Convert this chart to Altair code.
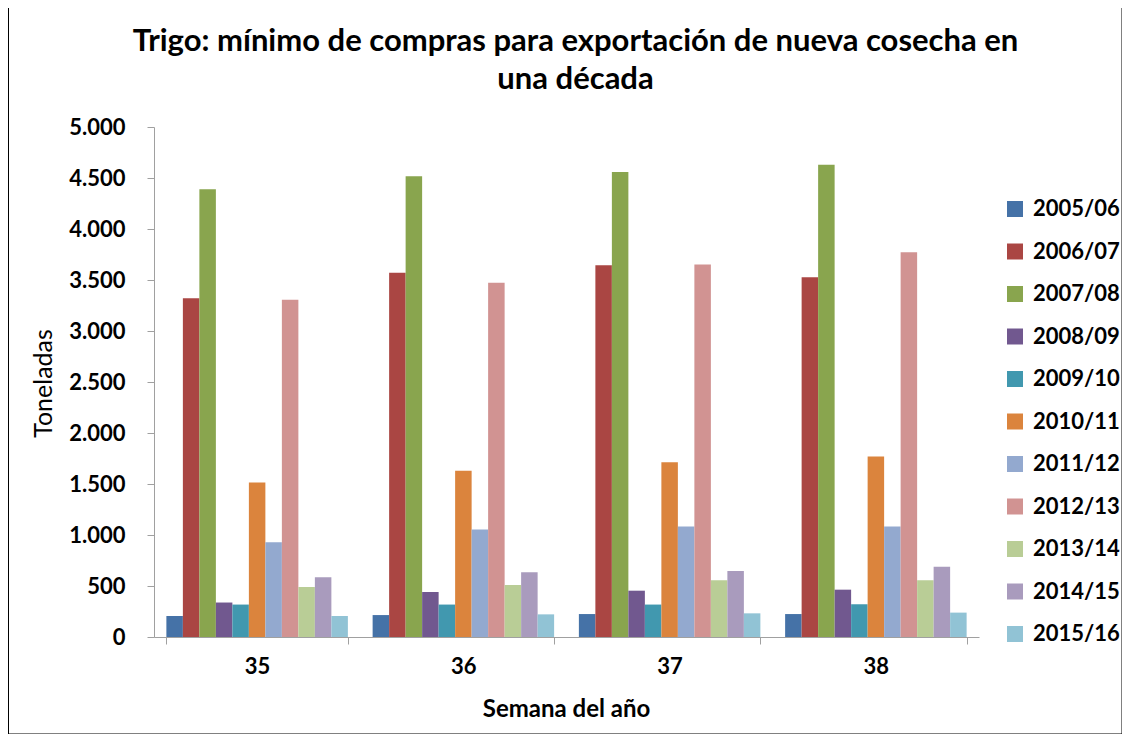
import altair as alt
import pandas as pd

weeks = ["35", "36", "37", "38"]
seasons = ["2005/06", "2006/07", "2007/08", "2008/09", "2009/10", "2010/11",
           "2011/12", "2012/13", "2013/14", "2014/15", "2015/16"]
colors = ["#4572A7", "#AA4643", "#89A54E", "#71588F", "#4198AF", "#DB843D",
          "#93A9CF", "#D19392", "#B9CD96", "#A99BBD", "#91C3D5"]

v_2005_06 = [206, 215, 225, 225]
v_2006_07 = [3320, 3572, 3645, 3526]
v_2007_08 = [4390, 4516, 4560, 4629]
v_2008_09 = [338, 441, 454, 464]
v_2009_10 = [318, 318, 318, 321]
v_2010_11 = [1514, 1630, 1713, 1769]
v_2011_12 = [928, 1054, 1084, 1084]
v_2012_13 = [3307, 3473, 3651, 3771]
v_2013_14 = [490, 510, 557, 557]
v_2014_15 = [586, 636, 646, 689]
v_2015_16 = [206, 222, 232, 239]

series = [v_2005_06, v_2006_07, v_2007_08, v_2008_09, v_2009_10, v_2010_11,
          v_2011_12, v_2012_13, v_2013_14, v_2014_15, v_2015_16]

rows = []
for s, vals in zip(seasons, series):
    for w, v in zip(weeks, vals):
        rows.append({"semana": w, "temporada": s, "toneladas": v})
df = pd.DataFrame(rows)

FONT = "Lato"

bars = alt.Chart(df).mark_bar().encode(
    x=alt.X("semana:N", sort=weeks,
            scale=alt.Scale(paddingInner=0.12, paddingOuter=0.06),
            axis=alt.Axis(title="Semana del año", tickBand="extent", labelAngle=0,
                          labelFontSize=22, labelFontWeight="bold", labelFont=FONT,
                          labelColor="#000000", labelPadding=12,
                          domainColor="#A0A0A0", tickColor="#A0A0A0", tickSize=7,
                          titleFont=FONT, titleFontSize=24, titleFontWeight="bold",
                          titleColor="#000000", titleX=412, titleY=72,
                          titleBaseline="middle")),
    xOffset=alt.XOffset("temporada:N", sort=seasons,
                        scale=alt.Scale(paddingInner=0, paddingOuter=0)),
    y=alt.Y("toneladas:Q",
            scale=alt.Scale(domain=[0, 5000], nice=False),
            axis=alt.Axis(title="Toneladas", values=list(range(0, 5001, 500)),
                          labelExpr="replace(format(datum.value, ','), ',', '.')",
                          grid=False, labelFontSize=22, labelFontWeight="bold",
                          labelFont=FONT, labelColor="#000000", labelPadding=22,
                          domainColor="#A0A0A0", tickColor="#A0A0A0", tickSize=7,
                          titleFont=FONT, titleFontSize=25, titleFontWeight="normal",
                          titleColor="#000000", titleX=-111, titleY=256,
                          titleAngle=-90, titleAlign="center",
                          titleBaseline="middle")),
    color=alt.Color("temporada:N", sort=seasons,
                    scale=alt.Scale(domain=seasons, range=colors),
                    legend=alt.Legend(title=None, orient="none", legendX=850,
                                      legendY=71, symbolType="square",
                                      symbolSize=256, symbolStrokeWidth=0,
                                      labelFontSize=22, labelFont=FONT,
                                      labelFontWeight="bold", labelColor="#000000",
                                      labelOffset=7, rowPadding=20.5, padding=0)),
)

frame = alt.Chart(pd.DataFrame({"f": [0]})).mark_rect(
    fill="transparent", stroke="#000000", strokeWidth=1
).encode(
    x=alt.value(-145.5), x2=alt.value(968), y=alt.value(-120.5), y2=alt.value(607)
)

chart = alt.layer(bars, frame).properties(
    width=825, height=510,
    padding={"left": 146, "top": 119, "right": 143, "bottom": 97},
    autosize=alt.AutoSizeParams(type="none"),
    title=alt.TitleParams(
        text=["Trigo: mínimo de compras para exportación de nueva cosecha en",
              "una década"],
        font=FONT, fontSize=31, fontWeight="bold", color="#000000",
        anchor="middle", frame="group", dx=9, offset=-90, lineHeight=38),
    background="#FFFFFF",
).configure_view(stroke=None)

chart.save("out.html", embed_options={"renderer": "svg", "actions": False})
